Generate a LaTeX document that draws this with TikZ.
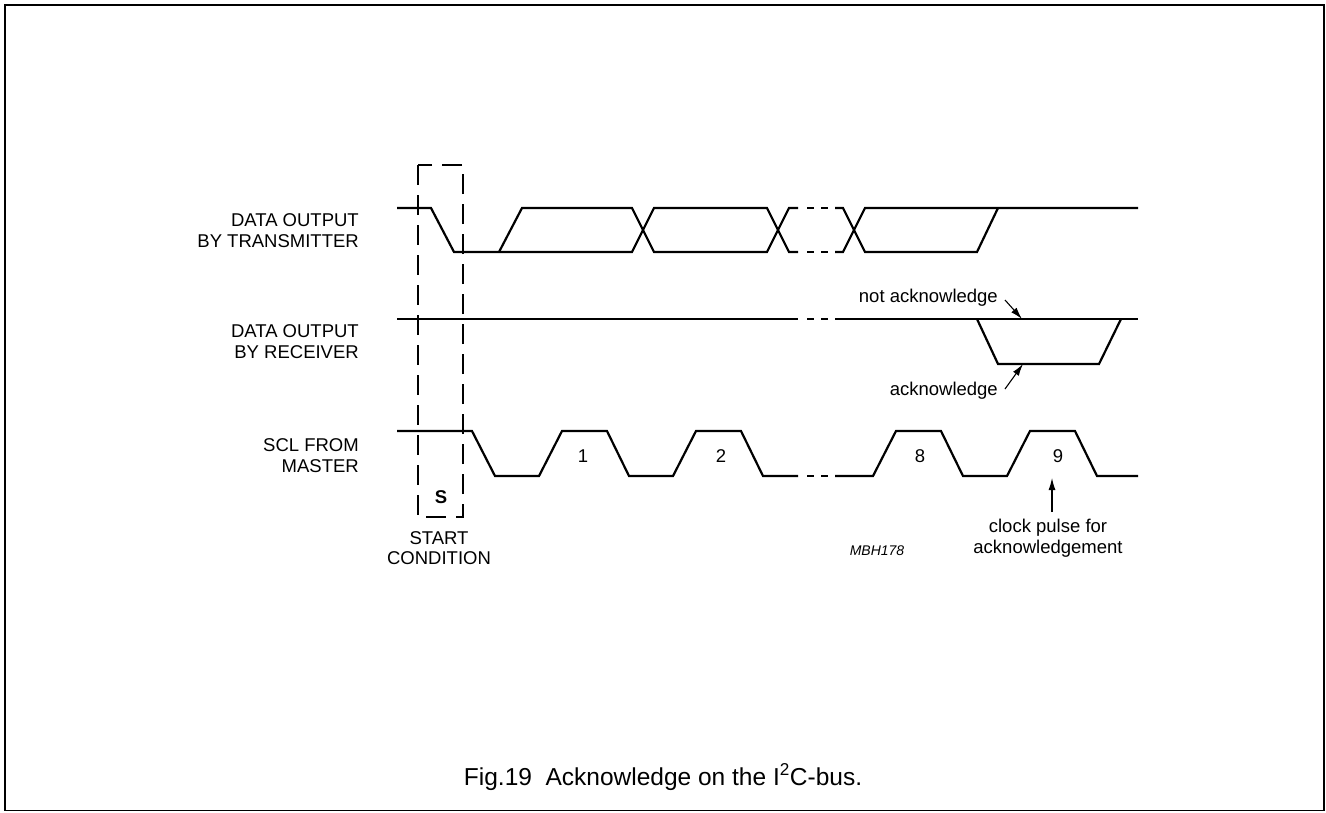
\documentclass[tikz,border=0pt]{standalone}
\usepackage{fontspec}
\setmainfont{Liberation Sans}
\usetikzlibrary{arrows.meta}

\begin{document}
\begin{tikzpicture}[x = 1pt, y = -1pt, > = {Latex[length = 12pt, width = 7pt]},
	wave/.style = {line width = 2.2pt},
	startbox/.style = {line width = 1.1pt, dash pattern = on 20pt off 10pt},
	pointer/.style = {->, line width = 1.1pt},
	signame/.style = {font = \fontsize{18.5}{21}\selectfont, inner sep = 0pt, align = right, anchor = east},
	note/.style = {font = \fontsize{18.5}{20.5}\selectfont, inner sep = 0pt, align = center}]

	\useasboundingbox (0,0) rectangle (1326,812);

	% Frame

	\draw [line width = 1.7pt] (5,5) rectangle (1324,810.5);

	% Signal names

	\node (txname) [signame] at (359,231) {DATA OUTPUT\\BY TRANSMITTER};
	\node (rxname) [signame] at (359,342) {DATA OUTPUT\\BY RECEIVER};
	\node (sclname) [signame] at (359,456) {SCL FROM\\MASTER};

	% Start condition

	\draw [startbox] (418,165) rectangle (463,517);
	\node (start) [note, font = \fontsize{18.5}{20.5}\selectfont\bfseries] at (441,497) {S};
	\node (startname) [note, anchor = north] at (439,531) {START\\CONDITION};

	% Data output by transmitter

	\draw [wave] (397,208) -- (431,208) -- (454,252) -- (632,252) -- (654,208) -- (767,208) -- (789,252) -- (798,252);
	\draw [wave] (499,252) -- (522,208) -- (632,208) -- (654,252) -- (767,252) -- (789,208) -- (798,208);
	\draw [wave] (835,208) -- (843,208) -- (865,252) -- (977,252) -- (998,208);
	\draw [wave] (835,252) -- (843,252) -- (865,208) -- (1138,208);

	% Data output by receiver

	\draw [wave] (397,319) -- (798,319);
	\draw [wave] (835,319) -- (1138,319);
	\draw [wave] (977,319) -- (998,364) -- (1099,364) -- (1121,319);

	% SCL from master

	\draw [wave] (397,431) -- (472,431) -- (495,476)
		\foreach \x in {539, 673} { -- (\x,476) -- ++(23,-45) -- ++(45,0) -- ++(22,45) } -- (798,476);
	\draw [wave] (835,476)
		\foreach \x in {873, 1007} { -- (\x,476) -- ++(23,-45) -- ++(45,0) -- ++(22,45) } -- (1138,476);

	% Breaks in the time axis

	\foreach \y in {208, 252, 319, 476}
		\foreach \x in {807, 821}
			\draw [wave] (\x,\y) -- ++(7,0);

	% Clock pulse numbers

	\foreach \x/\n in {583/1, 721/2, 920/8, 1058/9}
		\node (pulse\n) [note] at (\x,456) {\n};

	% Acknowledge labels and arrows

	\node (nack) [note, anchor = base east] at (998,302) {not acknowledge};
	\coordinate (nacktip) at (1022,319);
	\draw [pointer] ([xshift = 7pt, yshift = 2pt] nack.base east) -- (nacktip);

	\node (ack) [note, anchor = base east] at (998,395) {acknowledge};
	\coordinate (acktip) at (1023,364);
	\draw [pointer] ([xshift = 7pt, yshift = 6pt] ack.base east) -- (acktip);

	\node (ckack) [note, anchor = north] at (1048,519) {clock pulse for\\acknowledgement};
	\coordinate (cktip) at (1052,478);
	\coordinate (cktail) at (cktip |- ckack.north);
	\draw [pointer] ([yshift = 7pt] cktail) -- (cktip);

	\node (code) [inner sep = 0pt, font = \fontsize{14}{16}\selectfont\itshape] at (877,551) {MBH178};

	% Caption

	\node (caption) [inner sep = 0pt, anchor = base, font = \fontsize{24.5}{28}\selectfont] at (663,785)
		{Fig.19\ \ Acknowledge on the I\textsuperscript{2}C-bus.};

\end{tikzpicture}
\end{document}
